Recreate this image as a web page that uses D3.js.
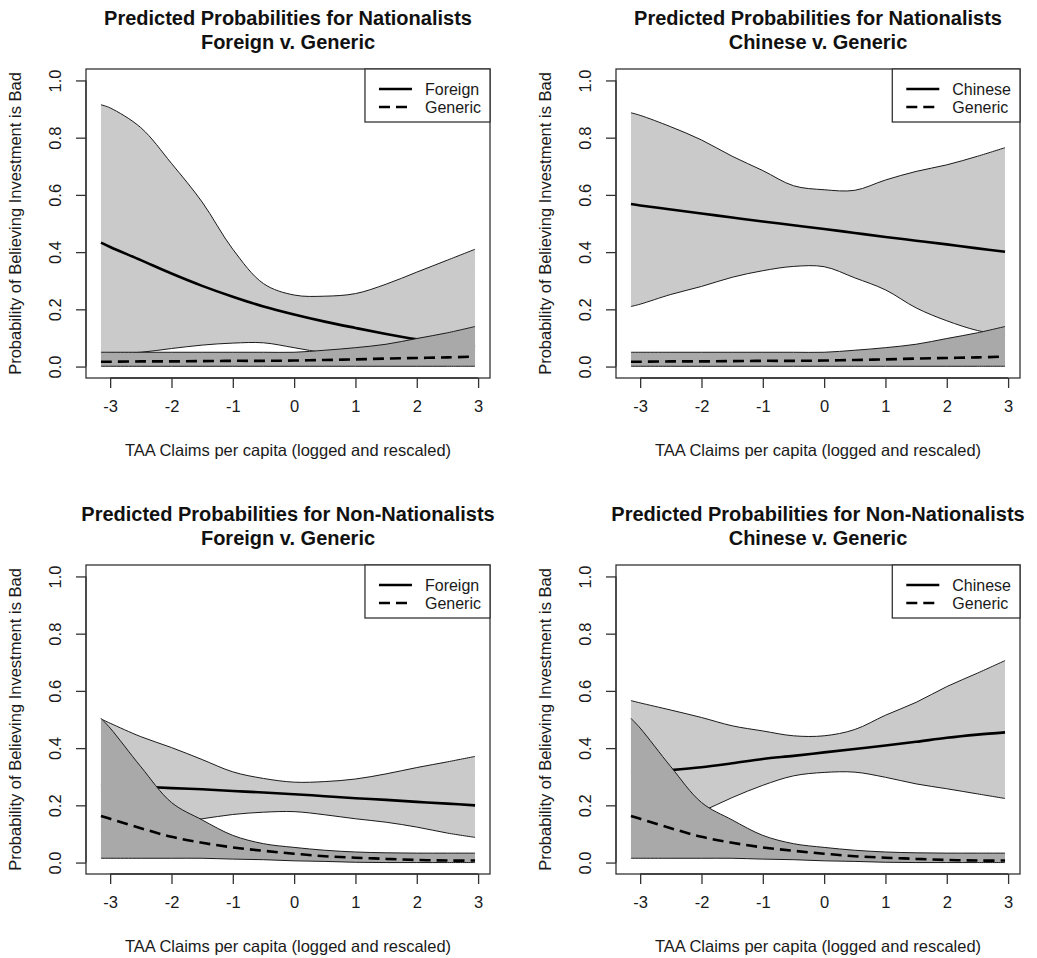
<!DOCTYPE html>
<html>
<head>
<meta charset="utf-8">
<script src="https://cdn.jsdelivr.net/npm/d3@7.9.0/dist/d3.min.js"></script>
<style>
  body { margin: 0; background: #fff; }
  svg { display: block; font-family: "Liberation Sans", Arial, Helvetica, sans-serif; }
</style>
</head>
<body>
<svg id="chart" width="1037" height="958"></svg>
<script>
// TAA claims grid (x values the predictions were computed at)
const taa = [-3.15, -3, -2.5, -2, -1.5, -1, -0.5, 0, 0.5, 1, 1.5, 2, 2.5, 2.95];

// Nationalists - Foreign
const natForeignUpper = [0.915, 0.904, 0.835, 0.71, 0.575, 0.41, 0.29, 0.25, 0.246, 0.255, 0.288, 0.33, 0.372, 0.41];
const natForeignFit   = [0.433, 0.418, 0.372, 0.325, 0.282, 0.244, 0.21, 0.182, 0.157, 0.135, 0.114, 0.095, 0.08, 0.068];
const natForeignLower = [0.045, 0.046, 0.05, 0.063, 0.075, 0.082, 0.083, 0.066, 0.048, 0.04, 0.036, 0.035, 0.034, 0.033];

// Nationalists - Chinese
const natChineseUpper = [0.887, 0.878, 0.838, 0.792, 0.735, 0.685, 0.632, 0.618, 0.616, 0.652, 0.682, 0.705, 0.735, 0.765];
const natChineseFit   = [0.568, 0.563, 0.549, 0.535, 0.521, 0.507, 0.494, 0.481, 0.467, 0.453, 0.44, 0.427, 0.413, 0.401];
const natChineseLower = [0.21, 0.218, 0.252, 0.28, 0.312, 0.335, 0.35, 0.349, 0.31, 0.268, 0.205, 0.16, 0.126, 0.11];

// Nationalists - Generic
const natGenericUpper = [0.05, 0.05, 0.05, 0.05, 0.05, 0.05, 0.05, 0.05, 0.057, 0.066, 0.078, 0.098, 0.118, 0.14];
const natGenericFit   = [0.017, 0.017, 0.018, 0.018, 0.019, 0.02, 0.02, 0.021, 0.023, 0.025, 0.028, 0.03, 0.032, 0.035];
const natGenericLower = [0.001, 0.001, 0.001, 0.001, 0.001, 0.001, 0.001, 0.001, 0.001, 0.001, 0.001, 0.001, 0.001, 0.001];

// Non-Nationalists - Foreign
const nonForeignUpper = [0.502, 0.487, 0.44, 0.402, 0.36, 0.317, 0.294, 0.281, 0.283, 0.292, 0.31, 0.332, 0.352, 0.371];
const nonForeignFit   = [0.273, 0.271, 0.266, 0.26, 0.256, 0.25, 0.245, 0.239, 0.232, 0.225, 0.219, 0.212, 0.206, 0.2];
const nonForeignLower = [0.11, 0.114, 0.127, 0.14, 0.153, 0.168, 0.176, 0.178, 0.167, 0.153, 0.141, 0.124, 0.103, 0.088];

// Non-Nationalists - Chinese
const nonChineseUpper = [0.566, 0.558, 0.533, 0.507, 0.478, 0.46, 0.443, 0.443, 0.465, 0.515, 0.56, 0.615, 0.662, 0.706];
const nonChineseFit   = [0.313, 0.315, 0.323, 0.333, 0.347, 0.362, 0.373, 0.385, 0.397, 0.409, 0.422, 0.436, 0.447, 0.455];
const nonChineseLower = [0.09, 0.1, 0.135, 0.178, 0.227, 0.27, 0.303, 0.315, 0.316, 0.298, 0.275, 0.258, 0.24, 0.224];

// Non-Nationalists - Generic
const nonGenericUpper = [0.504, 0.47, 0.335, 0.21, 0.149, 0.095, 0.066, 0.053, 0.043, 0.037, 0.034, 0.033, 0.033, 0.033];
const nonGenericFit   = [0.163, 0.153, 0.12, 0.09, 0.069, 0.053, 0.041, 0.031, 0.022, 0.017, 0.013, 0.009, 0.007, 0.007];
const nonGenericLower = [0.015, 0.015, 0.015, 0.015, 0.015, 0.012, 0.01, 0.006, 0.004, 0.001, 0, 0, 0, 0];

const xTicks = [-3, -2, -1, 0, 1, 2, 3];
const yTicks = [0, 0.2, 0.4, 0.6, 0.8, 1.0];

const panels = [
  { left: 86, top: 69, title: ["Predicted Probabilities for Nationalists", "Foreign v. Generic"], name: "Foreign",
    upper: natForeignUpper, fit: natForeignFit, lower: natForeignLower,
    gUpper: natGenericUpper, gFit: natGenericFit, gLower: natGenericLower },
  { left: 616, top: 69, title: ["Predicted Probabilities for Nationalists", "Chinese v. Generic"], name: "Chinese",
    upper: natChineseUpper, fit: natChineseFit, lower: natChineseLower,
    gUpper: natGenericUpper, gFit: natGenericFit, gLower: natGenericLower },
  { left: 86, top: 565, title: ["Predicted Probabilities for Non-Nationalists", "Foreign v. Generic"], name: "Foreign",
    upper: nonForeignUpper, fit: nonForeignFit, lower: nonForeignLower,
    gUpper: nonGenericUpper, gFit: nonGenericFit, gLower: nonGenericLower },
  { left: 616, top: 565, title: ["Predicted Probabilities for Non-Nationalists", "Chinese v. Generic"], name: "Chinese",
    upper: nonChineseUpper, fit: nonChineseFit, lower: nonChineseLower,
    gUpper: nonGenericUpper, gFit: nonGenericFit, gLower: nonGenericLower }
];

const W = 404, H = 309;
const ink = "#1a1a1a";
const svg = d3.select("#chart");
const curve = d3.curveCatmullRom.alpha(0.5);

panels.forEach(p => {
  const g = svg.append("g").attr("transform", `translate(${p.left},${p.top})`);
  // R-style 4% padding around data range
  const x = d3.scaleLinear().domain([-3.394, 3.194]).range([0, W]);
  const y = d3.scaleLinear().domain([-0.04, 1.04]).range([H, 0]);

  const area = (up, lo) => d3.area().x((d, i) => x(taa[i])).y0((d, i) => y(lo[i])).y1((d, i) => y(up[i]))
    .curve(curve)(taa);
  const line = arr => d3.line().x((d, i) => x(taa[i])).y((d, i) => y(arr[i])).curve(curve)(taa);

  // main series band
  g.append("path").attr("d", area(p.upper, p.lower)).attr("fill", "#cacaca");
  [p.upper, p.lower].forEach(a => g.append("path").attr("d", line(a))
    .attr("fill", "none").attr("stroke", ink).attr("stroke-width", 1));
  g.append("path").attr("d", line(p.fit)).attr("fill", "none").attr("stroke", "#000").attr("stroke-width", 2.6);

  // generic band on top
  g.append("path").attr("d", area(p.gUpper, p.gLower)).attr("fill", "#a9a9a9");
  [p.gUpper, p.gLower].forEach(a => g.append("path").attr("d", line(a))
    .attr("fill", "none").attr("stroke", ink).attr("stroke-width", 1));
  g.append("path").attr("d", line(p.gFit)).attr("fill", "none").attr("stroke", "#000")
    .attr("stroke-width", 2.6).attr("stroke-dasharray", "11,6");

  // box
  g.append("rect").attr("width", W).attr("height", H).attr("fill", "none")
    .attr("stroke", "#333").attr("stroke-width", 1.3);

  // x axis
  const xa = g.append("g").attr("transform", `translate(0,${H})`)
    .call(d3.axisBottom(x).tickValues(xTicks).tickSize(10).tickSizeOuter(0).tickPadding(12).tickFormat(d => String(d)));
  xa.select(".domain").attr("d", `M${x(-3)},0H${x(3)}`).attr("stroke", "#333").attr("stroke-width", 1.3);
  xa.selectAll(".tick line").attr("stroke", "#333").attr("stroke-width", 1.3);
  xa.selectAll("text").attr("font-size", 16.5).attr("fill", ink).attr("font-family", null);

  // y axis with rotated labels
  const ya = g.append("g").call(d3.axisLeft(y).tickValues(yTicks).tickSize(10).tickSizeOuter(0).tickFormat(d3.format(".1f")));
  ya.select(".domain").attr("d", `M0,${y(0)}V${y(1)}`).attr("stroke", "#333").attr("stroke-width", 1.3);
  ya.selectAll(".tick line").attr("stroke", "#333").attr("stroke-width", 1.3);
  ya.selectAll("text").attr("x", 0).attr("dy", null)
    .attr("transform", "translate(-31,0) rotate(-90)")
    .attr("text-anchor", "middle").attr("dominant-baseline", "central")
    .attr("font-size", 16.5).attr("fill", ink).attr("font-family", null);

  // axis titles
  g.append("text").attr("x", W / 2).attr("y", H + 72).attr("text-anchor", "middle")
    .attr("dominant-baseline", "central").attr("font-size", 16.5).attr("fill", ink)
    .text("TAA Claims per capita (logged and rescaled)");
  g.append("text").attr("transform", `translate(-71,${H / 2}) rotate(-90)`).attr("text-anchor", "middle")
    .attr("dominant-baseline", "central").attr("font-size", 16.5).attr("fill", ink)
    .text("Probability of Believing Investment is Bad");

  // main title
  p.title.forEach((t, i) => g.append("text").attr("x", W / 2).attr("y", -51 + i * 24)
    .attr("text-anchor", "middle").attr("dominant-baseline", "central")
    .attr("font-size", 20).attr("font-weight", "bold").attr("fill", "#111").text(t));

  // legend
  const leg = g.append("g");
  const labels = [p.name, "Generic"];
  const txt = labels.map((l, i) => leg.append("text").attr("y", 20 + i * 18)
    .attr("dominant-baseline", "central").attr("font-size", 16).attr("fill", ink).text(l));
  const maxW = d3.max(txt, t => t.node().getComputedTextLength());
  const tx = W - 9 - maxW;
  txt.forEach(t => t.attr("x", tx));
  leg.insert("rect", "text").attr("x", tx - 60).attr("y", 0).attr("width", W - tx + 60).attr("height", 53)
    .attr("fill", "#fff").attr("stroke", "#333").attr("stroke-width", 1.3);
  labels.forEach((l, i) => leg.append("line").attr("x1", tx - 46).attr("x2", tx - 13)
    .attr("y1", 20 + i * 18).attr("y2", 20 + i * 18).attr("stroke", "#000").attr("stroke-width", 2.6)
    .attr("stroke-dasharray", i ? "11,6" : null));
});
</script>
</body>
</html>
